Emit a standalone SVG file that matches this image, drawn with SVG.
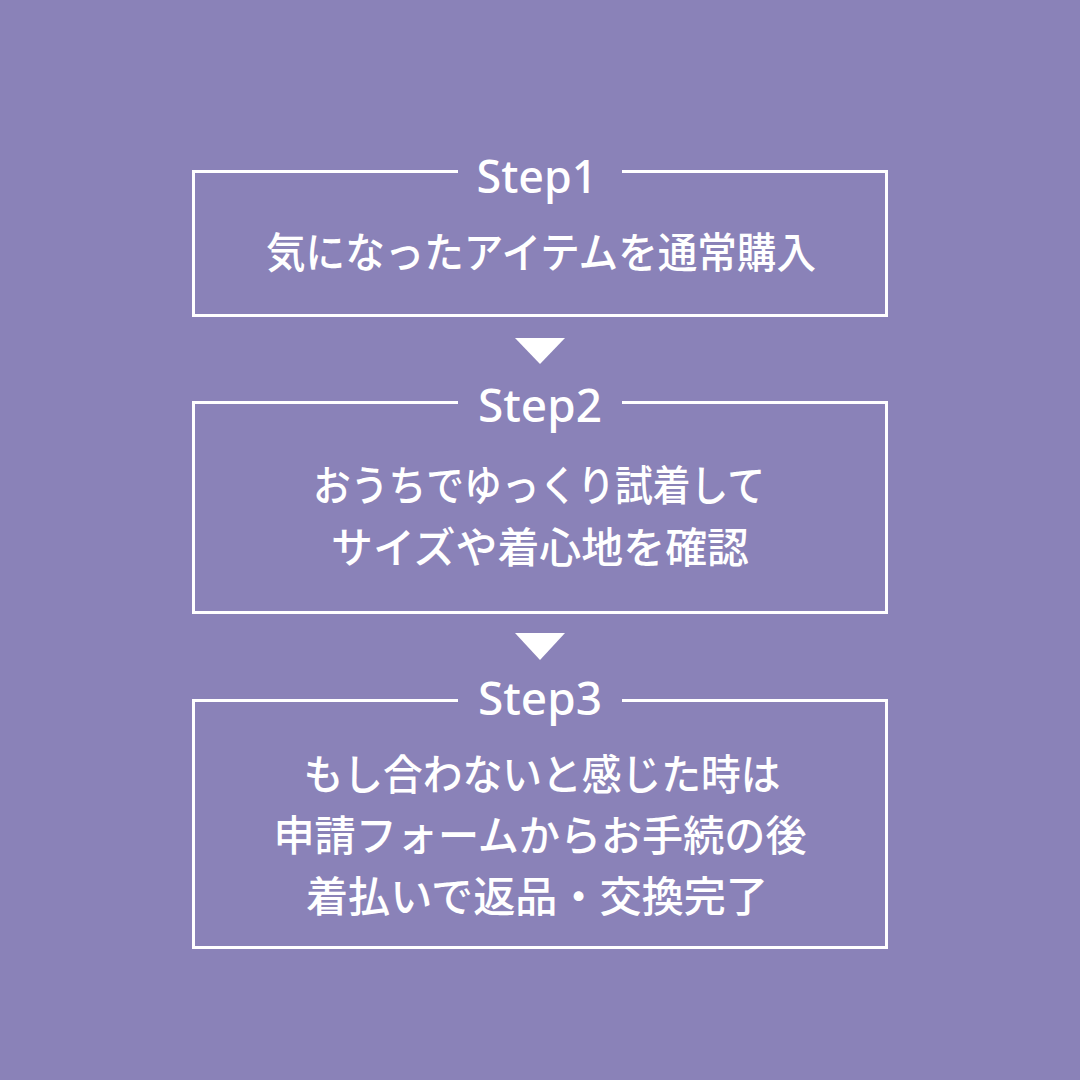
<svg xmlns="http://www.w3.org/2000/svg" width="1080" height="1080" viewBox="0 0 1080 1080">
  <style>
    .box { fill: none; stroke: #ffffff; stroke-width: 3; }
    .step { font-family: "Noto Sans", "Liberation Sans", sans-serif; font-size: 46px; font-weight: 500; fill: #ffffff; text-anchor: middle; }
    .jp { font-family: "Noto Sans CJK JP", "Noto Sans", sans-serif; font-size: 42px; font-weight: 500; fill: #ffffff; text-anchor: middle; }
    .arrow { fill: #ffffff; }
  </style>
  <rect x="0" y="0" width="1080" height="1080" fill="#8a82b8"/>
  <g id="step1">
    <path class="box" d="M458,171.5 H193.5 V315.5 H886.5 V171.5 H622"/>
    <text class="step" x="537" y="193" textLength="121" lengthAdjust="spacingAndGlyphs">Step1</text>
    <text class="jp" x="541" y="268" textLength="550" lengthAdjust="spacingAndGlyphs">気になったアイテムを通常購入</text>
  </g>
  <g id="step2">
    <path class="box" d="M458,402.5 H193.5 V612.5 H886.5 V402.5 H622"/>
    <text class="step" x="540" y="422" textLength="124" lengthAdjust="spacingAndGlyphs">Step2</text>
    <text class="jp" x="539" y="501" textLength="452" lengthAdjust="spacingAndGlyphs">おうちでゆっくり試着して</text>
    <text class="jp" x="540" y="563" textLength="418" lengthAdjust="spacingAndGlyphs">サイズや着心地を確認</text>
  </g>
  <g id="step3">
    <path class="box" d="M458,700.5 H193.5 V947.5 H886.5 V700.5 H622"/>
    <text class="step" x="540" y="715" textLength="124" lengthAdjust="spacingAndGlyphs">Step3</text>
    <text class="jp" x="542" y="790" textLength="477" lengthAdjust="spacingAndGlyphs">もし合わないと感じた時は</text>
    <text class="jp" x="540" y="851" textLength="533" lengthAdjust="spacingAndGlyphs">申請フォームからお手続の後</text>
    <text class="jp" x="537" y="912" textLength="462" lengthAdjust="spacingAndGlyphs">着払いで返品・交換完了</text>
  </g>
  <g id="connectors">
    <polygon class="arrow" points="515,338 565,338 540,364"/>
    <polygon class="arrow" points="515,633 565,633 540,660"/>
  </g>
</svg>
